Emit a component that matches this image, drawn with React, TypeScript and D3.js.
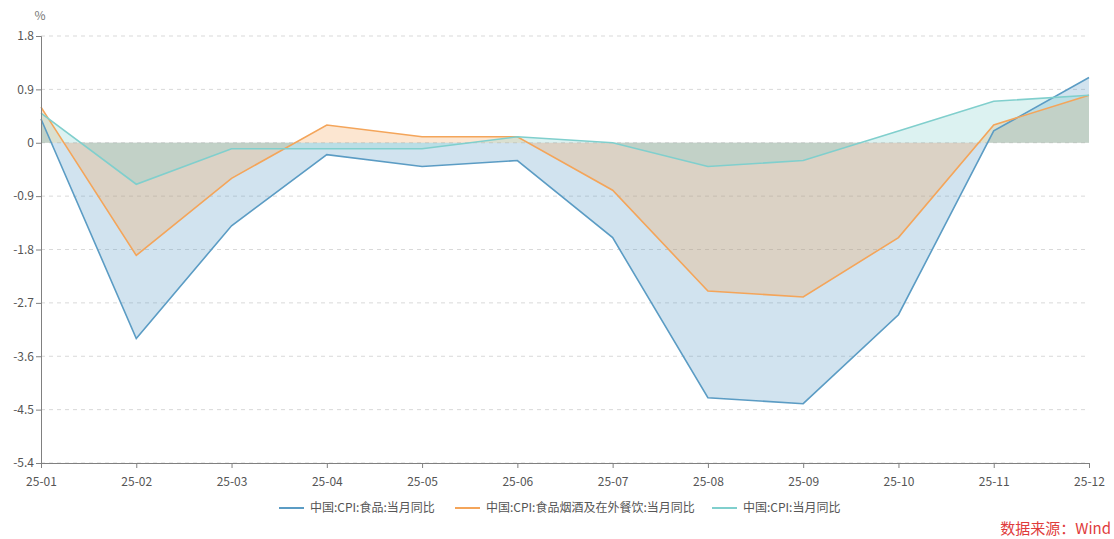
import React, { useEffect, useRef } from 'react'
import * as d3 from 'd3'

const months = ['25-01', '25-02', '25-03', '25-04', '25-05', '25-06', '25-07', '25-08', '25-09', '25-10', '25-11', '25-12']
const foodValues = [0.4, -3.3, -1.4, -0.2, -0.4, -0.3, -1.6, -4.3, -4.4, -2.9, 0.2, 1.1]
const foodTobaccoValues = [0.6, -1.9, -0.6, 0.3, 0.1, 0.1, -0.8, -2.5, -2.6, -1.6, 0.3, 0.8]
const cpiValues = [0.5, -0.7, -0.1, -0.1, -0.1, 0.1, 0.0, -0.4, -0.3, 0.2, 0.7, 0.8]
const yTicks = [1.8, 0.9, 0, -0.9, -1.8, -2.7, -3.6, -4.5, -5.4]

const seriesList = [
  { name: '中国:CPI:食品:当月同比', values: foodValues, color: '#5b9cc4' },
  { name: '中国:CPI:食品烟酒及在外餐饮:当月同比', values: foodTobaccoValues, color: '#f4a55a' },
  { name: '中国:CPI:当月同比', values: cpiValues, color: '#80cfcd' }
]

const W = 1114
const H = 539
const margin = { top: 36, right: 25, bottom: 76, left: 41 }
const FONT = '"Noto Sans CJK SC", "Open Sans", sans-serif'

export default function App() {
  const ref = useRef<SVGSVGElement>(null)

  useEffect(() => {
    const svg = d3.select(ref.current)
    svg.selectAll('*').remove()

    const x = d3.scalePoint().domain(months).range([margin.left, W - margin.right])
    const y = d3.scaleLinear().domain([-5.4, 1.8]).range([H - margin.bottom, margin.top])

    // grid
    svg.append('g')
      .selectAll('line')
      .data(yTicks)
      .enter()
      .append('line')
      .attr('x1', margin.left)
      .attr('x2', W - margin.right)
      .attr('y1', d => y(d))
      .attr('y2', d => y(d))
      .attr('stroke', '#d9d9d9')
      .attr('stroke-dasharray', '4,4')

    const area = d3.area<number>()
      .x((d, i) => x(months[i]) as number)
      .y0(y(0))
      .y1(d => y(d))
    const line = d3.line<number>()
      .x((d, i) => x(months[i]) as number)
      .y(d => y(d))

    seriesList.forEach(s => {
      svg.append('path')
        .attr('d', area(s.values))
        .attr('fill', s.color)
        .attr('fill-opacity', 0.28)
    })
    seriesList.forEach(s => {
      svg.append('path')
        .attr('d', line(s.values))
        .attr('fill', 'none')
        .attr('stroke', s.color)
        .attr('stroke-width', 1.6)
    })

    // axes
    const yAxis = svg.append('g')
      .attr('transform', `translate(${margin.left},0)`)
      .call(d3.axisLeft(y).tickValues(yTicks).tickSize(5).tickPadding(2).tickFormat(d => String(d)))
    const xAxis = svg.append('g')
      .attr('transform', `translate(0,${H - margin.bottom})`)
      .call(d3.axisBottom(x).tickSize(5).tickPadding(9))
    ;[yAxis, xAxis].forEach(a => {
      a.select('.domain').attr('stroke', '#808080')
      a.selectAll('.tick line').attr('stroke', '#808080')
      a.selectAll('.tick text')
        .attr('fill', '#555')
        .style('font-size', '12px')
        .style('font-family', FONT)
    })

    svg.append('text')
      .attr('x', 40)
      .attr('y', 20)
      .attr('text-anchor', 'middle')
      .attr('fill', '#777')
      .style('font-size', '12px')
      .style('font-family', FONT)
      .text('%')

    // legend
    const legendX = [279, 455, 712]
    seriesList.forEach((s, i) => {
      const g = svg.append('g').attr('transform', `translate(${legendX[i]},508)`)
      g.append('line')
        .attr('x1', 0).attr('x2', 25)
        .attr('stroke', s.color)
        .attr('stroke-width', 2)
      g.append('text')
        .attr('x', 31)
        .attr('dy', '0.35em')
        .attr('fill', '#555')
        .style('font-size', '12px')
        .style('font-family', FONT)
        .text(s.name)
    })

    svg.append('text')
      .attr('x', 1111)
      .attr('y', 534)
      .attr('text-anchor', 'end')
      .attr('fill', '#e03c3c')
      .style('font-size', '15px')
      .style('font-family', FONT)
      .text('数据来源：Wind')
  }, [])

  return (
    <svg ref={ref} width={W} height={H}
      style={{ position: 'absolute', left: 0, top: 0, background: '#fff' }} />
  )
}
